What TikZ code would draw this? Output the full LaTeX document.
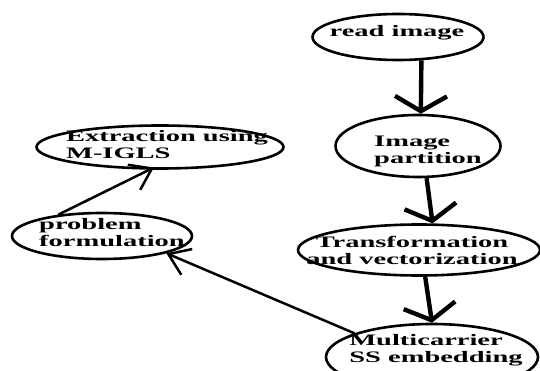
\documentclass[tikz,border=0pt]{standalone}
\usepackage{fontspec}
\newfontfamily\flowfont[FakeStretch=1.78]{Liberation Serif}
\usetikzlibrary{shapes, arrows.meta, positioning}
\tikzset{
    x=1pt, y=-1pt, % picture is laid out in pixel units, y pointing down
    stage/.style = {ellipse, draw, line width=2.6pt, inner sep=0pt}, % the outline of each step
    stagetext/.style = {inner sep=0pt, align=left, font=\flowfont\bfseries\fontsize{16pt}{17pt}\selectfont},
    flowdown/.style = {-{Straight Barb[length=15pt, width=52pt]}, line width=4.4pt},
    flowback/.style = {-{Straight Barb[length=20pt, width=28pt]}, line width=2.5pt}
}
\begin{document}
\begin{tikzpicture}
  \useasboundingbox (0,0) rectangle (540,371);
  % outlines
  \node [stage, minimum width=171pt, minimum height=46pt] (read)  at (398,37)  {};
  \node [stage, minimum width=165pt, minimum height=62pt] (part)  at (418,146) {};
  \node [stage, minimum width=242pt, minimum height=51pt] (trans) at (419,250) {};
  \node [stage, minimum width=212pt, minimum height=66pt] (multi) at (432,357) {};
  \node [stage, minimum width=247pt, minimum height=43pt] (extr)  at (160,147) {};
  \node [stage, minimum width=180pt, minimum height=46pt] (prob)  at (102,236) {};
  % texts
  \node [stagetext] (readtext)  at (397,33)    {read image};
  \node [stagetext] (parttext)  at (428,151)   {Image\\partition};
  \node [stagetext, align=center] (transtext) at (412,250.5) {Transformation\\and vectorization};
  \node [stagetext] (multitext) at (436,350.5) {Multicarrier\\SS embedding};
  \node [stagetext] (extrtext)  at (167,145)   {Extraction using\\M-IGLS};
  \node [stagetext] (probtext)  at (112,233)   {problem\\formulation};
  % connectors
  \draw [flowdown] (read.-45) -- (part.85);
  \draw [flowdown] (part.-75) -- (trans.63);
  \draw [flowdown] (trans.-77) -- (multi.90);
  \draw [flowback] (multi.163) -- (prob.-15);
  \draw [flowback, shorten >=-5pt] (prob.154) -- (extr.-115);
\end{tikzpicture}
\end{document}
